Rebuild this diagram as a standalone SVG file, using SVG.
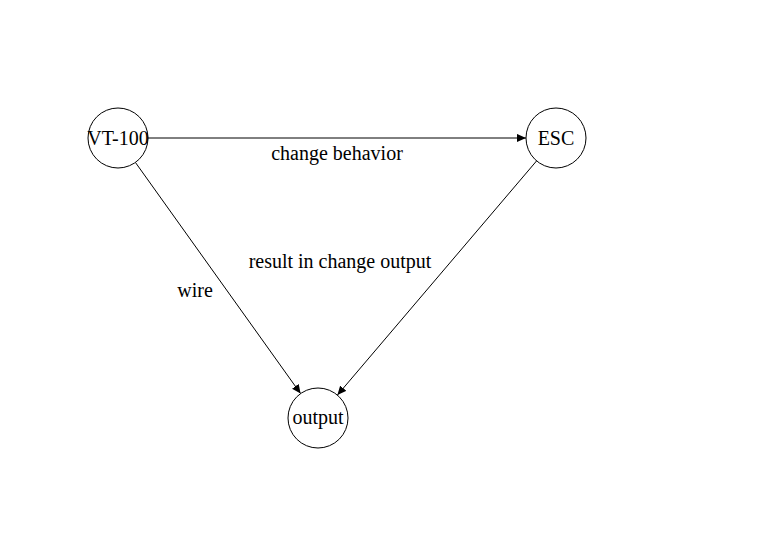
<svg xmlns="http://www.w3.org/2000/svg" width="760" height="539" viewBox="0 0 760 539">
<style>
.node circle{fill:#fff;stroke:#000;stroke-width:1}
text{font-family:"Liberation Serif","Times New Roman",serif;font-size:20px;fill:#000}
.nt{text-anchor:middle}
.edge{stroke:#000;stroke-width:1;fill:none;marker-end:url(#arr)}
</style>
<defs>
<marker id="arr" viewBox="0 0 10 10" refX="10" refY="5" markerWidth="9" markerHeight="9" markerUnits="userSpaceOnUse" orient="auto">
<path d="M0,0.5 L10,5 L0,9.5 Z" fill="#000"/>
</marker>
</defs>
<rect width="760" height="539" fill="#fff"/>
<g id="connectors">
<line class="edge" x1="148" y1="138" x2="526" y2="138"/>
<line class="edge" x1="135.4" y1="162.4" x2="300.6" y2="393.6"/>
<line class="edge" x1="536.6" y1="160.9" x2="337.4" y2="395.1"/>
<text x="337" y="160" class="nt">change behavior</text>
<text x="340" y="268" class="nt">result in change output</text>
<text x="195" y="297" class="nt">wire</text>
</g>
<g id="node-vt100" class="node">
<circle cx="118" cy="138" r="30"/>
<text x="118" y="145" class="nt">VT-100</text>
</g>
<g id="node-esc" class="node">
<circle cx="556" cy="138" r="30"/>
<text x="556" y="145" class="nt">ESC</text>
</g>
<g id="node-output" class="node">
<circle cx="318" cy="418" r="30"/>
<text x="318" y="424" class="nt">output</text>
</g>
</svg>
